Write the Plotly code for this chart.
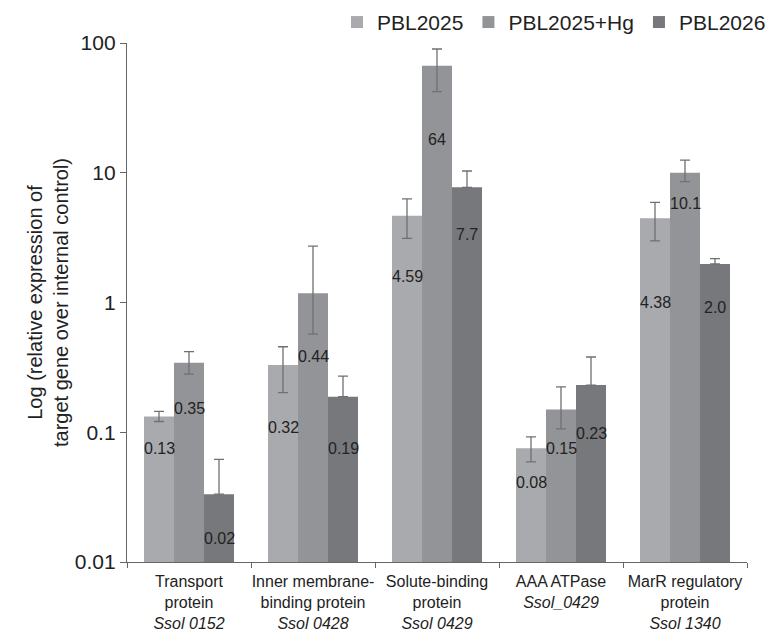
import math
import plotly.graph_objects as go

categories = ["Transport", "Inner", "Solute", "AAA", "MarR"]
tick_text = [
    "Transport<br>protein<br><i>Ssol 0152</i>",
    "Inner membrane-<br>binding protein<br><i>Ssol 0428</i>",
    "Solute-binding<br>protein<br><i>Ssol 0429</i>",
    "AAA ATPase<br><i>Ssol_0429</i>",
    "MarR regulatory<br>protein<br><i>Ssol 1340</i>",
]
series_names = ["PBL2025", "PBL2025+Hg", "PBL2026"]

pbl2025 = [0.132, 0.33, 4.67, 0.0752, 4.46]
pbl2025_err_plus = [0.013, 0.126, 1.61, 0.017, 1.46]
pbl2025_err_minus = [0.011, 0.128, 1.55, 0.016, 1.47]
pbl2025_labels = ["0.13", "0.32", "4.59", "0.08", "4.38"]

pbl2025hg = [0.344, 1.18, 66.8, 0.150, 10.0]
pbl2025hg_err_plus = [0.074, 1.54, 23.1, 0.074, 2.5]
pbl2025hg_err_minus = [0.063, 0.61, 24.6, 0.044, 1.47]
pbl2025hg_labels = ["0.35", "0.44", "64", "0.15", "10.1"]

pbl2026 = [0.0333, 0.188, 7.72, 0.231, 1.98]
pbl2026_err_plus = [0.0286, 0.083, 2.6, 0.149, 0.2]
pbl2026_err_minus = [0, 0, 0, 0, 0]
pbl2026_labels = ["0.02", "0.19", "7.7", "0.23", "2.0"]

y_tick_vals = [0.01, 0.1, 1, 10, 100]
y_tick_text = ["0.01", "0.1", "1", "10", "100"]

# style / layout
colors = ["#a9aaad", "#939497", "#77787b"]
err_color = "#707073"
label_drop_px = [
    [32, 63, 61, 34, 84],
    [46, 63, 74, 39, 31],
    [44, 52, 47, 48, 43],
]
bar_shift_px = [-30, 0, 30]

values = [pbl2025, pbl2025hg, pbl2026]
plus = [pbl2025_err_plus, pbl2025hg_err_plus, pbl2026_err_plus]
minus = [pbl2025_err_minus, pbl2025hg_err_minus, pbl2026_err_minus]
labels = [pbl2025_labels, pbl2025hg_labels, pbl2026_labels]

fig = go.Figure()
for i, name in enumerate(series_names):
    fig.add_trace(go.Bar(
        x=categories, y=values[i], name=name,
        marker=dict(color=colors[i], line=dict(width=0)),
        error_y=dict(type="data", array=plus[i], arrayminus=minus[i],
                     color=err_color, thickness=1.3, width=5),
    ))

annotations = []
for i in range(3):
    for j, cat in enumerate(categories):
        annotations.append(dict(
            x=cat, y=math.log10(values[i][j]), xref="x", yref="y",
            text=labels[i][j], showarrow=False,
            xshift=bar_shift_px[i], yshift=-label_drop_px[i][j],
            font=dict(size=16, color="#222222", family="Liberation Sans, Arial"),
        ))

fig.update_layout(
    width=771, height=633,
    margin=dict(l=127, r=24, t=43, b=71, autoexpand=False),
    paper_bgcolor="white", plot_bgcolor="white",
    barmode="group", bargap=0.274, bargroupgap=0,
    font=dict(family="Liberation Sans, Arial", color="#222222"),
    showlegend=True,
    legend=dict(orientation="h", x=1.0, xanchor="right", xref="container",
                y=0.997, yanchor="top", yref="container",
                font=dict(size=21, color="#222222"),
                itemwidth=30, traceorder="normal"),
    annotations=annotations,
    xaxis=dict(
        tickmode="array", tickvals=categories, ticktext=tick_text, tickangle=0,
        tickfont=dict(size=16, family="Liberation Sans, Arial", color="#222222"),
        showline=True, linecolor="#666666", linewidth=1.3,
        ticks="outside", tickson="boundaries", ticklen=5, tickcolor="#666666",
        showgrid=False, zeroline=False, automargin=False, ticklabelstandoff=5,
    ),
    yaxis=dict(
        type="log", range=[-2, 2],
        tickmode="array", tickvals=y_tick_vals, ticktext=y_tick_text,
        tickfont=dict(size=21, color="#222222"),
        showline=True, linecolor="#666666", linewidth=1.3,
        ticks="outside", ticklen=6, tickcolor="#666666",
        showgrid=False, zeroline=False, automargin=False,
        title=dict(text="Log (relative expression of<br>target gene over internal control)",
                   font=dict(size=20, color="#222222"), standoff=0),
    ),
)

# remove the default page margin so the figure sits at the window's corner
fig.write_html("out.html", config={"displayModeBar": False},
               post_script="document.body.style.margin='0';")
